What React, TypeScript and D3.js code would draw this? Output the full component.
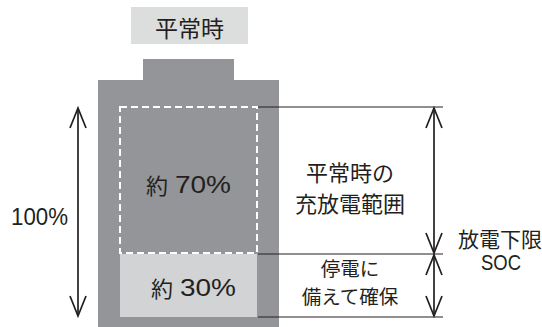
import React from "react";
import * as d3 from "d3";

const segmentPrefix = "約";
const segmentLabels = ["30%", "70%"];
const segmentValues = [30, 70];
const titleText = "平常時";
const totalLabel = "100%";
const rangeLabels = [["停電に", "備えて確保"], ["平常時の", "充放電範囲"]];
const sideLabel = ["放電下限", "SOC"];

const W = 542, H = 327;
const GRAY = "#939598";
const LIGHT = "#d1d3d4";
const TITLE_BG = "#dcdddd";
const INK = "#231f20";
const CJK = "'Noto Sans CJK JP', 'Liberation Sans', sans-serif";
const LATIN = "'Liberation Sans', Arial, sans-serif";

function Chevron({ x, y, dir }: { x: number; y: number; dir: 1 | -1 }) {
  const hw = 8, hh = 20;
  const p = d3.path();
  p.moveTo(x - hw, y - dir * hh);
  p.lineTo(x, y);
  p.lineTo(x + hw, y - dir * hh);
  return <path d={p.toString()} fill="none" stroke={INK} strokeWidth={1.7} />;
}

function DoubleArrow({ x, y1, y2 }: { x: number; y1: number; y2: number }) {
  return (
    <g>
      <line x1={x} x2={x} y1={y1 + 1} y2={y2 - 1} stroke={INK} strokeWidth={1.7} />
      <Chevron x={x} y={y1 + 1} dir={-1} />
      <Chevron x={x} y={y2 - 1} dir={1} />
    </g>
  );
}

export default function App() {
  const total = d3.sum(segmentValues);
  const y = d3.scaleLinear().domain([0, total]).range([317, 107]);
  const bounds = [0, ...Array.from(d3.cumsum(segmentValues))];
  const innerX0 = 120, innerX1 = 257;
  const labelPos = [
    { kx: 151, dx: 180, b: (y(bounds[0]) + y(bounds[1])) / 2 + 10 },
    { kx: 146, dx: 175, b: (y(bounds[1]) + y(bounds[2])) / 2 + 12 },
  ];

  return (
    <svg width={W} height={H} style={{ position: "absolute", left: 0, top: 0 }}>
      <rect x={131} y={7} width={117} height={37} fill={TITLE_BG} />
      <text x={189.5} y={37} textAnchor="middle" fontSize={23} fill={INK} fontFamily={CJK}>{titleText}</text>

      <rect x={143} y={59} width={91} height={22} fill={GRAY} />
      <rect x={98} y={80} width={181} height={247} fill={GRAY} />

      <rect x={innerX0} y={y(bounds[1])} width={innerX1 - innerX0} height={y(bounds[0]) - y(bounds[1])} fill={LIGHT} />
      <rect x={innerX0} y={y(bounds[2])} width={innerX1 - innerX0} height={y(bounds[1]) - y(bounds[2]) - 1}
        fill="none" stroke="#ffffff" strokeWidth={2} strokeDasharray="7 4" />

      {segmentLabels.map((lab, i) => (
        <g key={lab}>
          <text x={labelPos[i].kx} y={labelPos[i].b + 1} fontSize={22} fill={INK} fontFamily={CJK}>{segmentPrefix}</text>
          <text x={labelPos[i].dx} y={labelPos[i].b} fontSize={23} fill={INK} fontFamily={LATIN}
            textLength={56} lengthAdjust="spacingAndGlyphs">{lab}</text>
        </g>
      ))}

      {bounds.map((b, i) => (
        <line key={i} x1={innerX1 + 1} x2={443} y1={y(b)} y2={y(b)} stroke={INK} strokeWidth={1} />
      ))}

      <DoubleArrow x={78} y1={y(total)} y2={y(0)} />
      <text x={11} y={225} fontSize={23} fill={INK} fontFamily={LATIN}
        textLength={57} lengthAdjust="spacingAndGlyphs">{totalLabel}</text>

      <DoubleArrow x={434} y1={y(bounds[2])} y2={y(bounds[1])} />
      <DoubleArrow x={434} y1={y(bounds[1])} y2={y(bounds[0])} />

      <text x={350} y={180.5} textAnchor="middle" fontSize={22} fill={INK} fontFamily={CJK}>{rangeLabels[1][0]}</text>
      <text x={350} y={211.5} textAnchor="middle" fontSize={22} fill={INK} fontFamily={CJK}>{rangeLabels[1][1]}</text>
      <text x={350} y={276} textAnchor="middle" fontSize={19.5} fill={INK} fontFamily={CJK}>{rangeLabels[0][0]}</text>
      <text x={350} y={303.5} textAnchor="middle" fontSize={19.5} fill={INK} fontFamily={CJK}>{rangeLabels[0][1]}</text>

      <text x={500} y={246.5} textAnchor="middle" fontSize={21} fill={INK} fontFamily={CJK}>{sideLabel[0]}</text>
      <text x={481} y={269.5} fontSize={21.5} fill={INK} fontFamily={LATIN}
        textLength={40} lengthAdjust="spacingAndGlyphs">{sideLabel[1]}</text>
    </svg>
  );
}
